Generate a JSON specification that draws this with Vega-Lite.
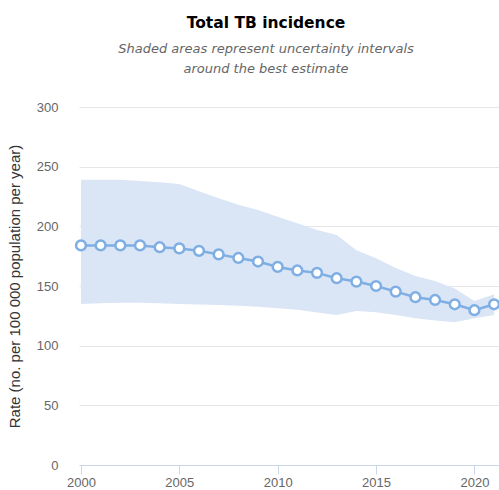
{
  "$schema": "https://vega.github.io/schema/vega-lite/v6.json",
  "autosize": "none",
  "width": 420,
  "height": 358,
  "padding": {"left": 79, "top": 107, "right": 0, "bottom": 25},
  "background": "white",
  "title": {
    "text": "Total TB incidence",
    "subtitle": ["Shaded areas represent uncertainty intervals", "around the best estimate"],
    "anchor": "middle",
    "dx": -23,
    "offset": 25,
    "font": "DejaVu Sans",
    "fontSize": 15.5,
    "fontWeight": "bold",
    "color": "#000000",
    "subtitleFont": "DejaVu Sans",
    "subtitleFontSize": 13,
    "subtitleFontStyle": "italic",
    "subtitleColor": "#666666",
    "subtitlePadding": 12,
    "subtitleLineHeight": 20
  },
  "config": {"view": {"stroke": null}},
  "data": {
    "values": [
      {"year": 2000, "best": 184, "lo": 135, "hi": 239},
      {"year": 2001, "best": 184, "lo": 135.5, "hi": 239},
      {"year": 2002, "best": 184, "lo": 136, "hi": 239},
      {"year": 2003, "best": 184, "lo": 136, "hi": 238},
      {"year": 2004, "best": 182.5, "lo": 135.5, "hi": 237},
      {"year": 2005, "best": 181.5, "lo": 135, "hi": 235.5},
      {"year": 2006, "best": 179.5, "lo": 134.5, "hi": 229.5},
      {"year": 2007, "best": 176.5, "lo": 134, "hi": 223.5},
      {"year": 2008, "best": 173.5, "lo": 133.5, "hi": 218},
      {"year": 2009, "best": 170.5, "lo": 132.7, "hi": 213.7},
      {"year": 2010, "best": 166, "lo": 131.3, "hi": 208},
      {"year": 2011, "best": 163, "lo": 130, "hi": 202.6},
      {"year": 2012, "best": 161, "lo": 127.7, "hi": 197},
      {"year": 2013, "best": 156.5, "lo": 125.7, "hi": 192.8},
      {"year": 2014, "best": 153.7, "lo": 129, "hi": 180},
      {"year": 2015, "best": 150, "lo": 128, "hi": 173.3},
      {"year": 2016, "best": 145.3, "lo": 125.7, "hi": 165},
      {"year": 2017, "best": 140.6, "lo": 123, "hi": 158.4},
      {"year": 2018, "best": 138.3, "lo": 121, "hi": 154.2},
      {"year": 2019, "best": 134.7, "lo": 119.6, "hi": 148},
      {"year": 2020, "best": 129.7, "lo": 123, "hi": 137.5},
      {"year": 2021, "best": 134.7, "lo": 125.7, "hi": 143}
    ]
  },
  "encoding": {
    "x": {
      "field": "year",
      "type": "quantitative",
      "scale": {"domain": [1999.9, 2021.25], "nice": false, "zero": false},
      "axis": {
        "values": [2000, 2005, 2010, 2015, 2020],
        "format": "d",
        "title": null,
        "grid": false,
        "domainColor": "#ccd6eb",
        "tickColor": "#ccd6eb",
        "tickSize": 9,
        "labelFont": "Liberation Sans",
        "labelFontSize": 13,
        "labelColor": "#666666",
        "labelPadding": 2,
        "labelFlush": false
      }
    }
  },
  "layer": [
    {
      "mark": {"type": "area", "color": "#dae6f6", "opacity": 1},
      "encoding": {
        "y": {
          "field": "lo",
          "type": "quantitative",
          "scale": {"domain": [0, 300], "nice": false},
          "axis": {
            "values": [0, 50, 100, 150, 200, 250, 300],
            "title": "Rate (no. per 100 000 population per year)",
            "titleFont": "Liberation Sans",
            "titleFontSize": 15,
            "titleFontWeight": "normal",
            "titleColor": "#333333",
            "titlePadding": 14,
            "labelFont": "Liberation Sans",
            "labelFontSize": 13,
            "labelColor": "#666666",
            "labelPadding": 21,
            "domain": false,
            "ticks": false,
            "gridColor": "#e6e6e6",
            "gridWidth": 1
          }
        },
        "y2": {"field": "hi"}
      }
    },
    {
      "mark": {"type": "line", "color": "#7eaee3", "strokeWidth": 2.5},
      "encoding": {"y": {"field": "best", "type": "quantitative"}}
    },
    {
      "mark": {"type": "point", "shape": "circle", "filled": true, "fill": "white", "stroke": "#7eaee3", "strokeWidth": 2.5, "size": 95, "opacity": 1},
      "encoding": {"y": {"field": "best", "type": "quantitative"}}
    }
  ]
}
